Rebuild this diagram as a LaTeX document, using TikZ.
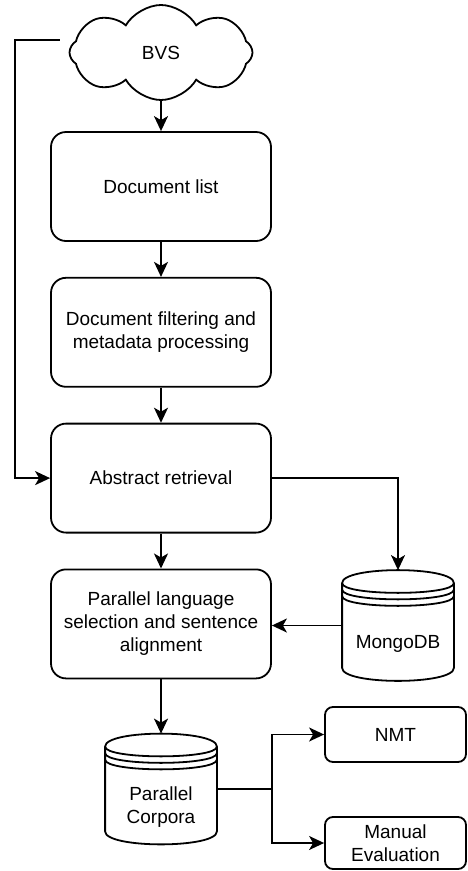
\documentclass[tikz,border=0pt]{standalone}
\usepackage{fontspec}
\setmainfont{Liberation Sans}
\usetikzlibrary{positioning,shapes.symbols,arrows.meta}

\begin{document}
\begin{tikzpicture}[x=1pt,y=1pt,line width=1.8pt,
            font=\fontsize{19}{23}\selectfont,
            node distance=35pt,
            >={Stealth[length=15pt,width=14pt,inset=4pt]},
            process/.style={draw,rounded corners=15pt,minimum width=220pt,minimum height=109pt,align=center,inner sep=0pt},
            output/.style={draw,rounded corners=8pt,minimum width=141pt,minimum height=55pt,align=center,inner sep=0pt},
            store/.style={minimum width=110pt,minimum height=109pt,inner sep=0pt}]
  \useasboundingbox (0,0) rectangle (467,-871);
  \node[cloud,draw,cloud puffs=8,cloud puff arc=120,aspect=1.9,
        minimum width=183pt,minimum height=95pt,inner sep=0pt] (bvs) at (161,-52.5) {BVS};
  \node[process] (doclist) at (161,-186.5) {Document list};
  \node[process,below=of doclist] (filter) {Document filtering and\\metadata processing};
  \node[process,below=of filter] (abstract) {Abstract retrieval};
  \node[process,below=of abstract] (align) {Parallel language\\selection and sentence\\alignment};
  \node[store,label={[yshift=-18pt]center:MongoDB}] (mongo) at (398,-625.5) {};
  \node[store,label={[align=center,yshift=-18pt]center:{Parallel\\Corpora}}] (corpora) at (161,-789) {};
  \node[output] (nmt) at (395.5,-734.5) {NMT};
  \node[output,minimum height=52pt] (manual) at (395.5,-843) {Manual\\Evaluation};
  % datastore outlines
  \foreach \s in {mongo,corpora} {
    \draw ([yshift=-13]\s.north west) .. controls ([yshift=4.3]\s.north west) and ([yshift=4.3]\s.north east) .. ([yshift=-13]\s.north east)
      -- ([yshift=13]\s.south east) .. controls ([yshift=-4.3]\s.south east) and ([yshift=-4.3]\s.south west) .. ([yshift=13]\s.south west) -- cycle;
    \draw ([yshift=-13]\s.north west) .. controls ([yshift=-26]\s.north west) and ([yshift=-26]\s.north east) .. ([yshift=-13]\s.north east);
    \draw ([yshift=-19.5]\s.north west) .. controls ([yshift=-32.5]\s.north west) and ([yshift=-32.5]\s.north east) .. ([yshift=-19.5]\s.north east);
    \draw ([yshift=-26]\s.north west) .. controls ([yshift=-39]\s.north west) and ([yshift=-39]\s.north east) .. ([yshift=-26]\s.north east);
  }
  \coordinate (back) at (15,-40);
  \draw[->] (bvs.south) -- (doclist);
  \draw[->] (doclist) -- (filter);
  \draw[->] (filter) -- (abstract);
  \draw[->] (abstract) -- (align);
  \draw[->] (align) -- (corpora);
  \draw[->,shorten <=9pt] (bvs.west |- back) -- (back) |- (abstract);
  \draw[->] (abstract) -| (mongo);
  \draw[->] (mongo.west) -- (mongo.west -| align.east);
  \draw[->] (corpora) -- (corpora -| align.east) |- (nmt);
  \draw[->] (corpora -| align.east) |- (manual);
\end{tikzpicture}
\end{document}
